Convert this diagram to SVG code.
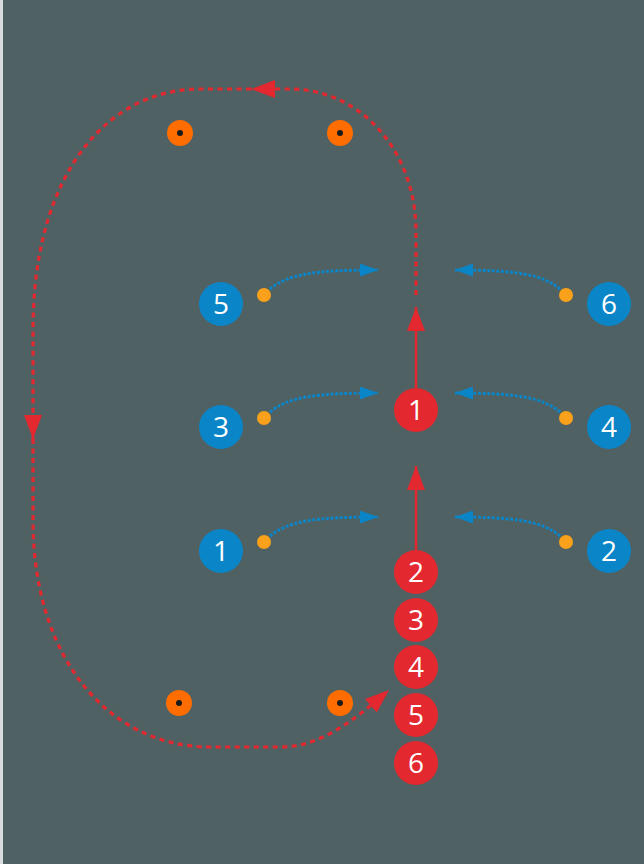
<svg xmlns="http://www.w3.org/2000/svg" width="644" height="864" viewBox="0 0 644 864">
<style>
.bg{fill:#506163}
.blue{fill:#0a85c8}
.red{fill:#e3282f}
.dot{fill:#f9a11b}
.cone{fill:#ff6d00}
.conec{fill:#1a1a1a}
.num{fill:#ffffff;font-family:"Open Sans","DejaVu Sans",sans-serif;font-size:28px;text-anchor:middle}
.rdash{fill:none;stroke:#e3282f;stroke-width:3.2;stroke-dasharray:5 4.5}
.rsolid{fill:none;stroke:#e3282f;stroke-width:2.5}
.bdot{fill:none;stroke:#0a85c8;stroke-width:3;stroke-dasharray:3 1.6}
</style>
<defs>
<marker id="ra" markerUnits="userSpaceOnUse" markerWidth="24" markerHeight="18" refX="24" refY="9" orient="auto">
<path d="M0,0 L24,9 L0,18 z" fill="#e3282f"/>
</marker>
<marker id="ba" markerUnits="userSpaceOnUse" markerWidth="18" markerHeight="13" refX="18" refY="6.5" orient="auto">
<path d="M0,0 L18,6.5 L0,13 z" fill="#0a85c8"/>
</marker>
</defs>
<rect x="0" y="0" width="644" height="864" fill="#d8dcdc"/>
<rect class="bg" x="3" y="0" width="641" height="864"/>

<g id="cones">
<circle class="cone" cx="180" cy="133" r="13"/><circle class="conec" cx="180" cy="133" r="3"/>
<circle class="cone" cx="340" cy="133" r="13"/><circle class="conec" cx="340" cy="133" r="3"/>
<circle class="cone" cx="179" cy="703" r="13"/><circle class="conec" cx="179" cy="703" r="3"/>
<circle class="cone" cx="340" cy="703" r="13"/><circle class="conec" cx="340" cy="703" r="3"/>
</g>

<g id="connectors">
<path class="rdash" d="M416,295 L416,232 C416,150 360,89 290,89 L251,89" marker-end="url(#ra)"/>
<path class="rdash" d="M251,89 L200,89 C110,89 33,170 33,330 L33,439" marker-end="url(#ra)"/>
<path class="rdash" d="M33,439 L33,520 C33,660 110,747 210,747 L280,747 C320,747 352,722 389,690" marker-end="url(#ra)"/>
<path class="rsolid" d="M416,550 L416,466" marker-end="url(#ra)"/>
<path class="rsolid" d="M416,388 L416,307" marker-end="url(#ra)"/>
<path class="bdot" d="M270,289 C288,274 315,270 378,270" marker-end="url(#ba)"/>
<path class="bdot" d="M560,289 C542,274 515,270 455,270" marker-end="url(#ba)"/>
<path class="bdot" d="M270,412 C288,397 315,393 378,393" marker-end="url(#ba)"/>
<path class="bdot" d="M560,412 C542,397 515,393 455,393" marker-end="url(#ba)"/>
<path class="bdot" d="M270,536 C288,521 315,517 378,517" marker-end="url(#ba)"/>
<path class="bdot" d="M560,536 C542,521 515,517 455,517" marker-end="url(#ba)"/>
</g>

<g id="blue5"><circle class="blue" cx="221" cy="304" r="22"/><text class="num" x="221" y="314">5</text></g>
<g id="blue6"><circle class="blue" cx="609" cy="304" r="22"/><text class="num" x="609" y="314">6</text></g>
<g id="blue3"><circle class="blue" cx="221" cy="427" r="22"/><text class="num" x="221" y="437">3</text></g>
<g id="blue4"><circle class="blue" cx="609" cy="427" r="22"/><text class="num" x="609" y="437">4</text></g>
<g id="blue1"><circle class="blue" cx="221" cy="551" r="22"/><text class="num" x="221" y="561">1</text></g>
<g id="blue2"><circle class="blue" cx="609" cy="551" r="22"/><text class="num" x="609" y="561">2</text></g>

<g id="markers">
<circle class="dot" cx="264" cy="295" r="7"/>
<circle class="dot" cx="566" cy="295" r="7"/>
<circle class="dot" cx="264" cy="418" r="7"/>
<circle class="dot" cx="566" cy="418" r="7"/>
<circle class="dot" cx="264" cy="542" r="7"/>
<circle class="dot" cx="566" cy="542" r="7"/>
</g>

<g id="red1"><circle class="red" cx="416" cy="410" r="22"/><text class="num" x="416" y="420">1</text></g>
<g id="red2"><circle class="red" cx="416" cy="572" r="22"/><text class="num" x="416" y="582">2</text></g>
<g id="red3"><circle class="red" cx="416" cy="620" r="22"/><text class="num" x="416" y="630">3</text></g>
<g id="red4"><circle class="red" cx="416" cy="667" r="22"/><text class="num" x="416" y="677">4</text></g>
<g id="red5"><circle class="red" cx="416" cy="715" r="22"/><text class="num" x="416" y="725">5</text></g>
<g id="red6"><circle class="red" cx="416" cy="763" r="22"/><text class="num" x="416" y="773">6</text></g>
</svg>
